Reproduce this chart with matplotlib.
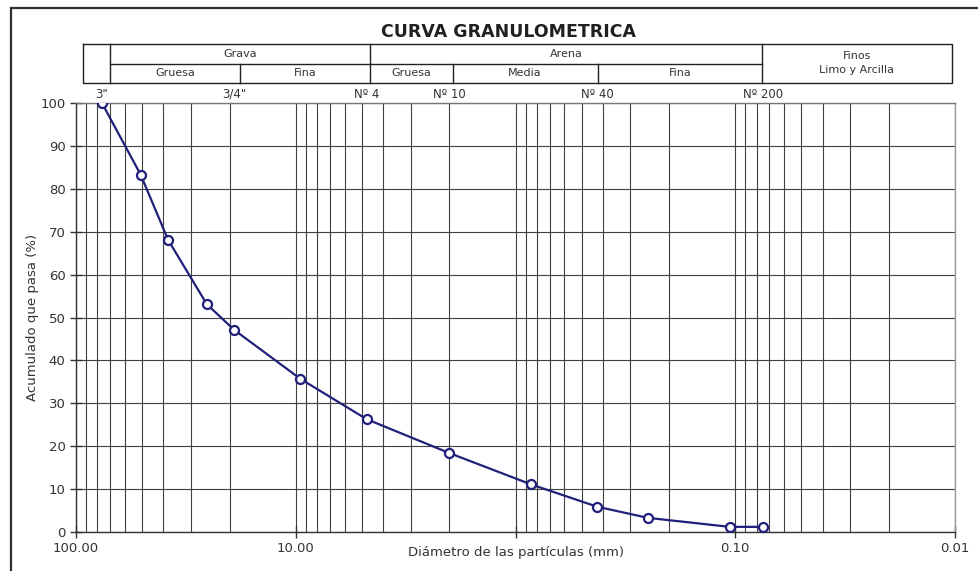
import numpy as np
import matplotlib.pyplot as plt
from matplotlib.patches import Rectangle
from matplotlib.ticker import LogLocator, NullFormatter

# Tamices y porcentaje que pasa
tamices = ['3"', '2"', '1 1/2"', '1"', '3/4"', '3/8"', 'Nº 4', 'Nº 10', 'Nº 20',
           'Nº 40', 'Nº 60', 'Nº 140', 'Nº 200']
abertura = [76.2, 50.8, 38.1, 25.4, 19.05, 9.525, 4.76, 2.0, 0.85, 0.425, 0.25, 0.106, 0.075]
pasa = [100.0, 83.3, 68.1, 53.1, 47.1, 35.7, 26.3, 18.4, 11.1, 5.9, 3.3, 1.2, 1.2]

# Tamices rotulados sobre la gráfica
rot_tamiz = ['3"', '3/4"', 'Nº 4', 'Nº 10', 'Nº 40', 'Nº 200']
rot_abertura = [76.2, 19.05, 4.76, 2.0, 0.425, 0.075]

xticks = [100, 10, 1, 0.1, 0.01]
xtick_labels = ['100.00', '10.00', '', '0.10', '0.01']

W, H = 979, 571
fig = plt.figure(figsize=(W / 100, H / 100), dpi=100)

# marco exterior
fig.add_artist(Rectangle((11 / W, -0.2), 1.2, 1.2 - 8 / H, transform=fig.transFigure,
                         fill=False, ec='#303030', lw=1.6))

ax = fig.add_axes([76 / W, 1 - 532 / H, (955 - 76) / W, (532 - 103) / H])
ax.set_xscale('log')
ax.set_xlim(100, 0.01)
ax.set_ylim(0, 100)
ax.set_yticks(range(0, 101, 10))
ax.set_xticks(xticks)
ax.set_xticklabels(xtick_labels)
ax.xaxis.set_minor_locator(LogLocator(base=10, subs=np.arange(2, 10)))
ax.xaxis.set_minor_formatter(NullFormatter())
ax.grid(True, which='both', axis='x', color='#404040', lw=0.8)
ax.grid(True, which='major', axis='y', color='#404040', lw=0.8)
ax.tick_params(axis='both', which='major', direction='inout', length=8, width=1,
               labelsize=9.5, colors='#333333')
ax.tick_params(axis='x', which='minor', length=0)
for s in ax.spines.values():
    s.set_color('#333333')
    s.set_linewidth(1.0)
ax.spines['right'].set_color('#999999')
ax.spines['top'].set_color('#777777')

ax.plot(abertura, pasa, color='#20207a', lw=1.6, marker='o', ms=6.5,
        mfc='white', mec='#20207a', mew=1.6, zorder=5)

ax.set_ylabel('Acumulado que pasa (%)', fontsize=9.5, color='#333333', labelpad=1)
ax.set_xlabel('Diámetro de las partículas (mm)', fontsize=9.5, color='#333333')
ax.xaxis.set_label_coords(0.5, -0.032)

for t, a in zip(rot_tamiz, rot_abertura):
    ax.text(a, 100.5, t, ha='center', va='bottom', fontsize=8.5, color='#333333')

fig.text(0.519, 1 - 32 / H, 'CURVA GRANULOMETRICA', ha='center', va='center',
         fontsize=12.5, fontweight='bold', color='#202020')

# tabla de clasificación
hd = fig.add_axes([83 / W, 1 - 83 / H, (952 - 83) / W, (83 - 44) / H])
hd.set_xlim(83, 952)
hd.set_ylim(83, 44)
hd.axis('off')
lc = dict(color='#202020', lw=1.0, clip_on=False)
hd.plot([83, 952, 952, 83, 83], [44, 44, 83, 83, 44], **lc)
hd.plot([110, 762], [64, 64], **lc)
for xv in [110, 370, 762]:
    hd.plot([xv, xv], [44, 83], **lc)
for xv in [240, 453, 598]:
    hd.plot([xv, xv], [64, 83], **lc)

fs = 8
tc = '#333333'
hd.text(240, 54, 'Grava', ha='center', va='center', fontsize=fs, color=tc)
hd.text(566, 54, 'Arena', ha='center', va='center', fontsize=fs, color=tc)
hd.text(857, 56, 'Finos', ha='center', va='center', fontsize=fs, color=tc)
hd.text(857, 70, 'Limo y Arcilla', ha='center', va='center', fontsize=fs, color=tc)
for xc, t in [(175, 'Gruesa'), (305, 'Fina'), (411, 'Gruesa'), (525, 'Media'), (680, 'Fina')]:
    hd.text(xc, 73.5, t, ha='center', va='center', fontsize=fs, color=tc)

fig.savefig('out.png', dpi=100)
